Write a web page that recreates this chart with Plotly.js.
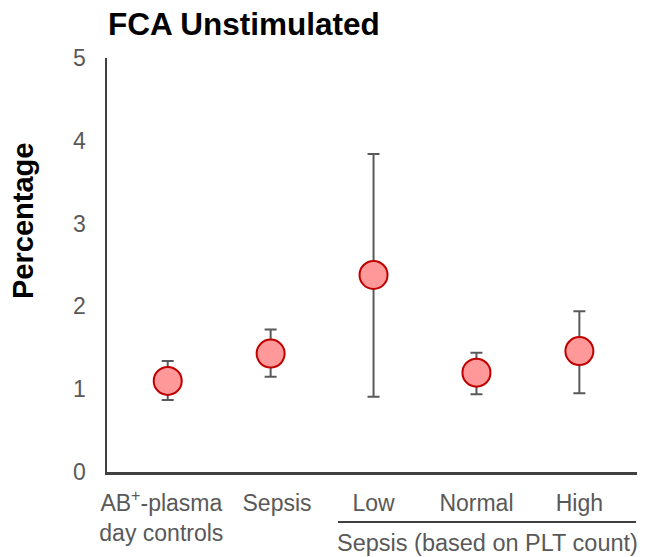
<!DOCTYPE html>
<html>
<head>
<meta charset="utf-8">
<script src="https://cdn.plot.ly/plotly-3.0.1.min.js"></script>
<style>html,body{margin:0;padding:0;background:#fff;}#chart{width:646px;height:557px;}</style>
</head>
<body>
<div id="chart"></div>
<script>
var categories = ["AB⁺-plasma day controls", "Sepsis", "Low", "Normal", "High"];
var tickLabels = ["AB<sup>+</sup>-plasma&nbsp;&nbsp;<br>day controls&nbsp;&nbsp;", "&nbsp;&nbsp;Sepsis", "Low", "Normal", "High"];
var means = [1.10, 1.43, 2.38, 1.20, 1.46];
var errUpper = [1.34, 1.72, 3.84, 1.44, 1.94];
var errLower = [0.87, 1.15, 0.91, 0.94, 0.95];
var yTicks = [0, 1, 2, 3, 4, 5];

var plus = means.map(function(m, i){ return errUpper[i] - m; });
var minus = means.map(function(m, i){ return m - errLower[i]; });

var trace = {
  type: 'scatter',
  mode: 'markers',
  x: categories,
  y: means,
  error_y: {type: 'data', symmetric: false, array: plus, arrayminus: minus,
            color: '#595959', thickness: 2, width: 6},
  marker: {size: 28, color: '#FF9999', line: {color: '#C00000', width: 2}},
  hoverinfo: 'x+y'
};

var layout = {
  width: 646, height: 557,
  margin: {l: 107, r: 9, t: 58, b: 85},
  paper_bgcolor: '#ffffff', plot_bgcolor: '#ffffff',
  showlegend: false,
  font: {family: 'Liberation Sans, Arial, sans-serif', color: '#595959'},
  title: {text: '<b>FCA Unstimulated</b>', x: 108/646, xref: 'container', xanchor: 'left',
          y: 1 - 24/557, yref: 'container', yanchor: 'middle',
          font: {size: 31.5, color: '#000000', family: 'Liberation Sans, Arial, sans-serif'}},
  xaxis: {
    type: 'category',
    range: [-0.59, 4.56],
    tickmode: 'array', tickvals: categories, ticktext: tickLabels,
    tickangle: 0,
    showgrid: false, zeroline: false,
    showline: true, linecolor: '#404040', linewidth: 2.5,
    ticks: '', tickfont: {size: 23, color: '#595959'},
    ticklabelstandoff: 9, fixedrange: true
  },
  yaxis: {
    range: [0, 5],
    tickmode: 'array', tickvals: yTicks, ticktext: yTicks.map(String),
    showgrid: false, zeroline: false,
    showline: true, linecolor: '#404040', linewidth: 2.5,
    ticks: '', tickfont: {size: 23, color: '#595959'},
    ticklabelstandoff: 14, fixedrange: true
  },
  shapes: [
    {type: 'line', xref: 'paper', yref: 'paper',
     x0: (338-107)/530, x1: (636-107)/530, y0: -50/414, y1: -50/414,
     line: {color: '#404040', width: 2}}
  ],
  annotations: [
    {text: 'Sepsis (based on PLT count)', xref: 'paper', yref: 'paper',
     x: (487-107)/530, y: -71/414, xanchor: 'center', yanchor: 'middle', showarrow: false,
     font: {size: 23.5, color: '#595959'}},
    {text: '<b>Percentage</b>', xref: 'paper', yref: 'paper',
     x: (23-107)/530, y: (472-221)/414, xanchor: 'center', yanchor: 'middle', showarrow: false,
     textangle: -90, font: {size: 29, color: '#000000'}}
  ]
};

Plotly.newPlot('chart', [trace], layout, {displayModeBar: false, staticPlot: true});
</script>
</body>
</html>
